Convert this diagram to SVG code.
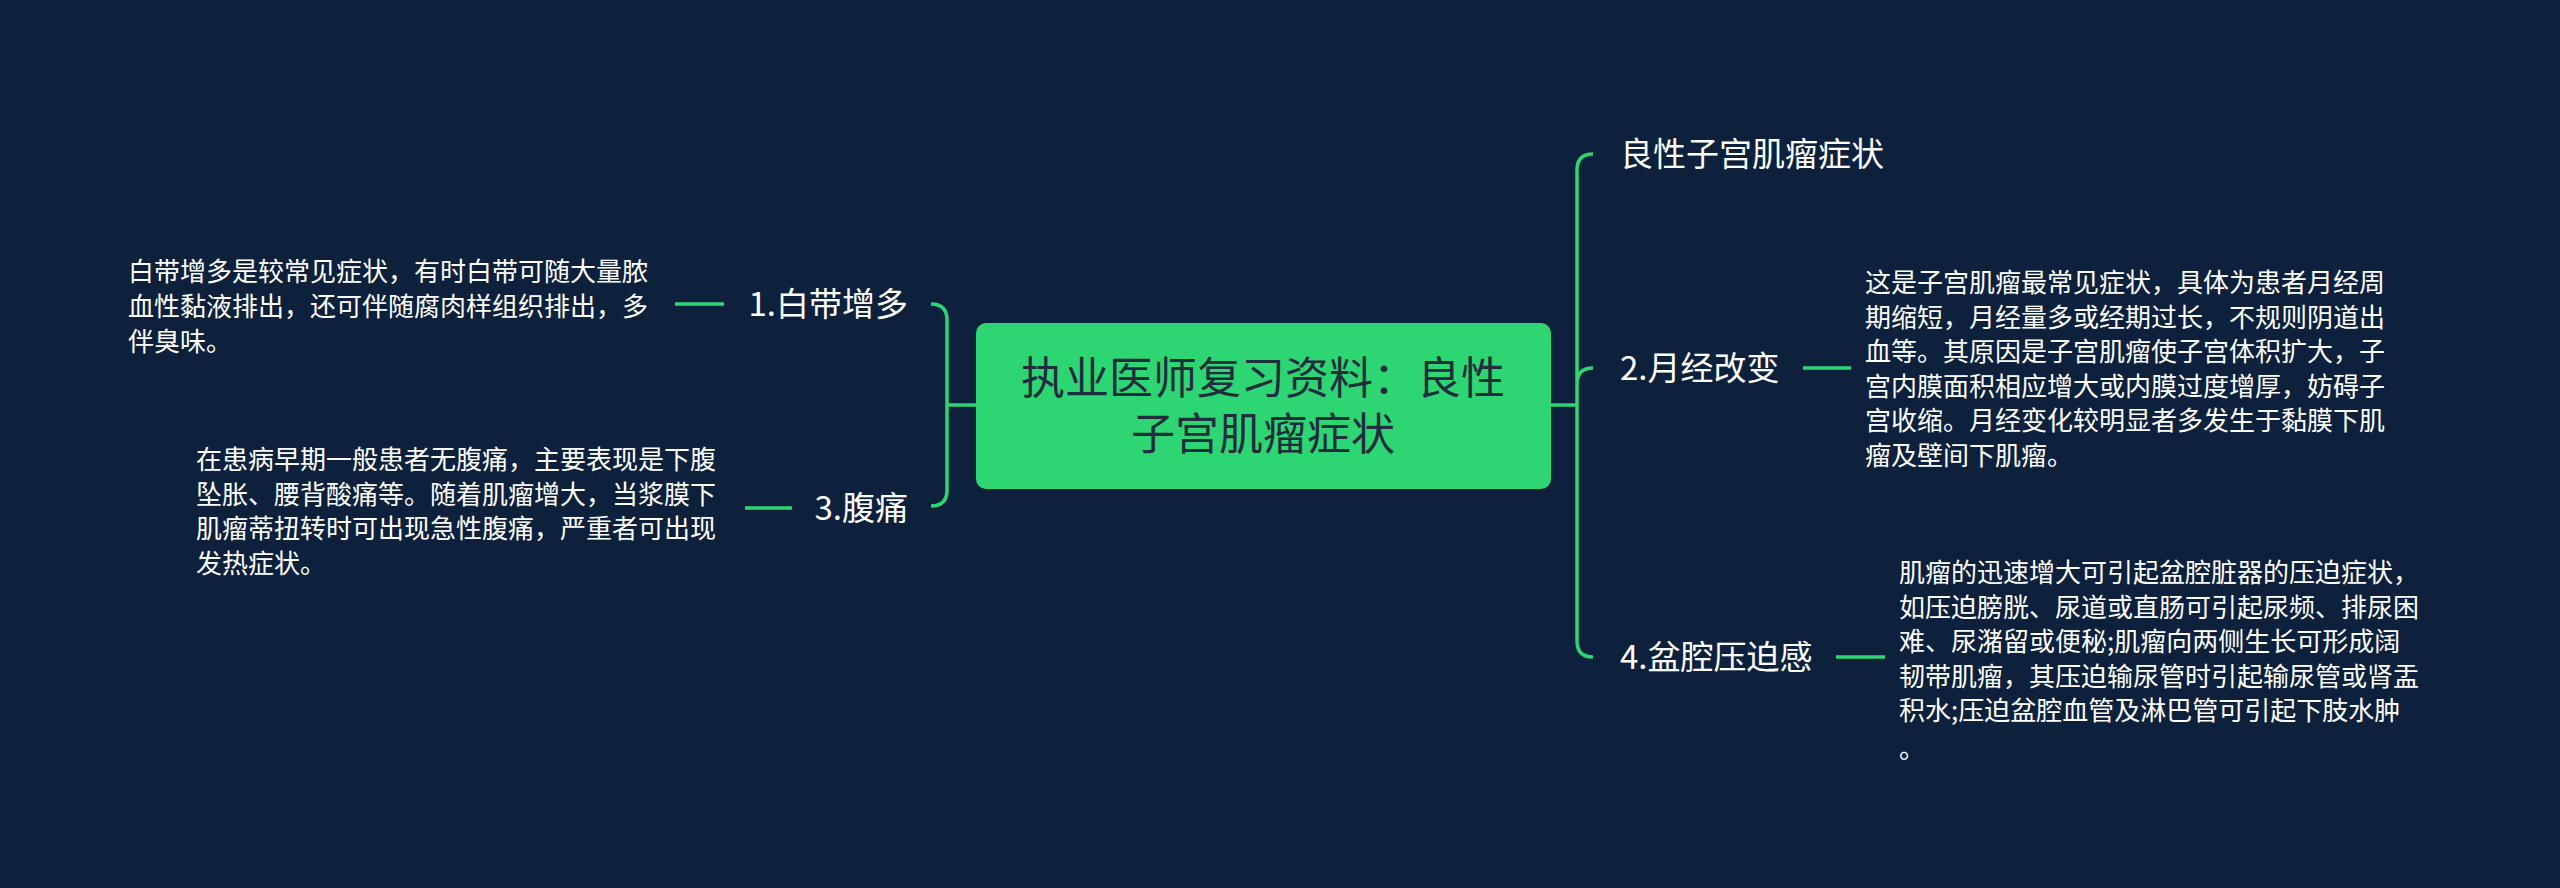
<svg xmlns="http://www.w3.org/2000/svg" width="2560" height="888" viewBox="0 0 2560 888">
<style>
.t{font-family:"Noto Sans CJK SC","Noto Sans",sans-serif;fill:#ffffff}
.lab{font-size:33px}
.d{font-size:26px}
.c{stroke:#2ed573;stroke-width:3.5;fill:none}
</style>
<rect width="2560" height="888" fill="#0d213d"/>
<g id="connectors">
<path class="c" d="M1551 405 H1577 M1593 154 Q1577 154 1577 170 V641 Q1577 657 1593 657 M1577 384 Q1577 368 1593 368"/>
<path class="c" d="M1803 368 H1851 M1836 657 H1885"/>
<path class="c" d="M976 405 H947 M931 304 Q947 304 947 320 V490 Q947 506 931 506"/>
<path class="c" d="M675 304 H724 M745 508 H792"/>
</g>
<g id="center">
<rect x="976" y="323" width="575" height="166" rx="10" fill="#2ed573"/>
<text class="t" x="1263" y="394" font-size="44" text-anchor="middle" style="fill:#1f2d3d">执业医师复习资料：良性<tspan x="1263" dy="56">子宫肌瘤症状</tspan></text>
</g>
<g id="n0"><text class="t lab" x="1620" y="166">良性子宫肌瘤症状</text></g>
<g id="n2"><text class="t lab" x="1620" y="380">2.月经改变</text></g>
<g id="n2d"><text class="t d" x="1865" y="292">这是子宫肌瘤最常见症状，具体为患者月经周<tspan x="1865" dy="34.5">期缩短，月经量多或经期过长，不规则阴道出</tspan><tspan x="1865" dy="34.5">血等。其原因是子宫肌瘤使子宫体积扩大，子</tspan><tspan x="1865" dy="34.5">宫内膜面积相应增大或内膜过度增厚，妨碍子</tspan><tspan x="1865" dy="34.5">宫收缩。月经变化较明显者多发生于黏膜下肌</tspan><tspan x="1865" dy="34.5">瘤及壁间下肌瘤。</tspan></text></g>
<g id="n4"><text class="t lab" x="1620" y="669">4.盆腔压迫感</text></g>
<g id="n4d"><text class="t d" x="1899" y="582">肌瘤的迅速增大可引起盆腔脏器的压迫症状，<tspan x="1899" dy="34.5">如压迫膀胱、尿道或直肠可引起尿频、排尿困</tspan><tspan x="1899" dy="34.5">难、尿潴留或便秘;肌瘤向两侧生长可形成阔</tspan><tspan x="1899" dy="34.5">韧带肌瘤，其压迫输尿管时引起输尿管或肾盂</tspan><tspan x="1899" dy="34.5">积水;压迫盆腔血管及淋巴管可引起下肢水肿</tspan><tspan x="1899" dy="38">。</tspan></text></g>
<g id="n1"><text class="t lab" x="908" y="316" text-anchor="end">1.白带增多</text></g>
<g id="n1d"><text class="t d" x="128" y="281">白带增多是较常见症状，有时白带可随大量脓<tspan x="128" dy="35">血性黏液排出，还可伴随腐肉样组织排出，多</tspan><tspan x="128" dy="35">伴臭味。</tspan></text></g>
<g id="n3"><text class="t lab" x="908" y="520" text-anchor="end">3.腹痛</text></g>
<g id="n3d"><text class="t d" x="196" y="469">在患病早期一般患者无腹痛，主要表现是下腹<tspan x="196" dy="34.5">坠胀、腰背酸痛等。随着肌瘤增大，当浆膜下</tspan><tspan x="196" dy="34.5">肌瘤蒂扭转时可出现急性腹痛，严重者可出现</tspan><tspan x="196" dy="34.5">发热症状。</tspan></text></g>
</svg>
